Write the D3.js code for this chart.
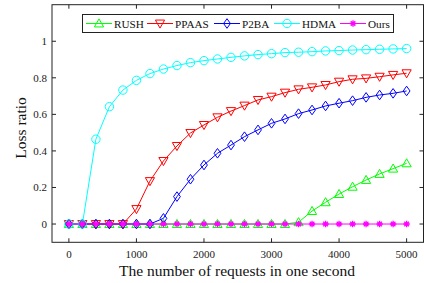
<!DOCTYPE html>
<html><head><meta charset="utf-8">
<script src="https://cdn.jsdelivr.net/npm/d3@7"></script>
<style>body{margin:0;background:#fff}svg{display:block}
svg text{font-family:"Liberation Serif","Times New Roman",Tinos,"DejaVu Serif",serif;}</style>
</head><body><svg id="c" width="424" height="283"></svg>
<script>
const xs = d3.range(0, 5001, 200);
const rush  = [0,0,0,0,0,0,0,0,0,0,0,0,0,0,0,0,0,0.01,0.071,0.119,0.164,0.204,0.241,0.274,0.303,0.332];
const ppaas = [0,0,0,0,0,0.082,0.235,0.345,0.427,0.498,0.542,0.584,0.618,0.648,0.679,0.697,0.719,0.737,0.748,0.761,0.779,0.792,0.797,0.806,0.816,0.825];
const p2ba  = [0,0,0,0,0,0,0,0.031,0.150,0.245,0.323,0.387,0.432,0.478,0.515,0.551,0.575,0.604,0.624,0.646,0.661,0.675,0.693,0.706,0.715,0.728];
const hdma  = [0,0,0.464,0.642,0.733,0.786,0.823,0.848,0.867,0.883,0.894,0.903,0.912,0.920,0.927,0.932,0.938,0.940,0.943,0.947,0.949,0.952,0.954,0.956,0.958,0.960];
const ours  = xs.map(()=>0);
const seriesNames = ["RUSH","PPAAS","P2BA","HDMA","Ours"];
const seriesVals = [rush, ppaas, p2ba, hdma, ours];
const colors = ["#00ff00","#ff0000","#0000ff","#00ffff","#ff00ff"];
const markers = ["tri-up","tri-down","diamond","circle","star"];
const xTicks = [0,1000,2000,3000,4000,5000];
const yTicks = [0,0.2,0.4,0.6,0.8,1];
const yTickLabels = ["0","0.2","0.4","0.6","0.8","1"];

const svg = d3.select("#c");
const x = d3.scaleLinear().domain([-250,5250]).range([52,423.5]);
const y = d3.scaleLinear().domain([-0.1,1.2]).range([242.3,4.7]);

function drawMarker(g, type, cx, cy, col){
  if(type==="circle"){
    g.append("circle").attr("cx",cx).attr("cy",cy).attr("r",4.2).attr("fill","none").attr("stroke",col).attr("stroke-width",1);
  } else if(type==="tri-up"){
    const s=4.6;
    g.append("path").attr("d",`M${cx},${cy-s}L${cx+s},${cy+s*0.75}L${cx-s},${cy+s*0.75}Z`).attr("fill","none").attr("stroke",col).attr("stroke-width",1);
  } else if(type==="tri-down"){
    const s=4.6;
    g.append("path").attr("d",`M${cx},${cy+s}L${cx+s},${cy-s*0.75}L${cx-s},${cy-s*0.75}Z`).attr("fill","none").attr("stroke",col).attr("stroke-width",1);
  } else if(type==="diamond"){
    g.append("path").attr("d",`M${cx},${cy-4.8}L${cx+3.4},${cy}L${cx},${cy+4.8}L${cx-3.4},${cy}Z`).attr("fill","none").attr("stroke",col).attr("stroke-width",1);
  } else if(type==="star"){
    const r=3.2, d=r*0.72;
    g.append("path").attr("d",`M${cx-r},${cy}L${cx+r},${cy}M${cx},${cy-r}L${cx},${cy+r}M${cx-d},${cy-d}L${cx+d},${cy+d}M${cx-d},${cy+d}L${cx+d},${cy-d}`)
      .attr("stroke",col).attr("stroke-width",1.3);
  }
}

svg.append("rect").attr("x",52).attr("y",4.7).attr("width",423.5-52).attr("height",242.3-4.7)
  .attr("fill","none").attr("stroke","#222").attr("stroke-width",1);

const tl = 4;
const tg = svg.append("g").attr("stroke","#222").attr("stroke-width",1);
xTicks.forEach(t=>{
  tg.append("line").attr("x1",x(t)).attr("x2",x(t)).attr("y1",242.3).attr("y2",242.3-tl);
  tg.append("line").attr("x1",x(t)).attr("x2",x(t)).attr("y1",4.7).attr("y2",4.7+tl);
});
yTicks.forEach(t=>{
  tg.append("line").attr("x1",52).attr("x2",52+tl).attr("y1",y(t)).attr("y2",y(t));
  tg.append("line").attr("x1",423.5).attr("x2",423.5-tl).attr("y1",y(t)).attr("y2",y(t));
});
svg.append("g").selectAll("text").data(xTicks).join("text")
  .attr("x",d=>x(d)).attr("y",258).attr("text-anchor","middle")
  .attr("font-size",11).attr("fill","#222").text(d=>d);
svg.append("g").selectAll("text").data(yTicks).join("text")
  .attr("x",47).attr("y",d=>y(d)+3.8).attr("text-anchor","end")
  .attr("font-size",11).attr("fill","#222").text((d,i)=>yTickLabels[i]);

svg.append("text").attr("x",237).attr("y",276).attr("text-anchor","middle")
  .attr("font-size",15.5).attr("fill","#111").text("The number of requests in one second");
svg.append("text").attr("transform","translate(26,128) rotate(-90)").attr("text-anchor","middle")
  .attr("font-size",15.5).attr("fill","#111").text("Loss ratio");

const line = d3.line().x((d,i)=>x(xs[i])).y(d=>y(d));
seriesVals.forEach((vals,k)=>{
  const g = svg.append("g");
  g.append("path").attr("d",line(vals)).attr("fill","none").attr("stroke",colors[k]).attr("stroke-width",1);
  vals.forEach((v,i)=>drawMarker(g, markers[k], x(xs[i]), y(v), colors[k]));
});

const lg = svg.append("g");
lg.append("rect").attr("x",82.5).attr("y",14.5).attr("width",311).attr("height",18)
  .attr("fill","#fff").attr("stroke","#222").attr("stroke-width",1);
const lx = [86,147,214,274,340];
seriesNames.forEach((n,k)=>{
  const cy = 23.5;
  lg.append("line").attr("x1",lx[k]).attr("x2",lx[k]+26).attr("y1",cy).attr("y2",cy).attr("stroke",colors[k]).attr("stroke-width",1);
  drawMarker(lg, markers[k], lx[k]+13, cy, colors[k]);
  lg.append("text").attr("x",lx[k]+28).attr("y",cy+4).attr("font-size",11.2).attr("fill","#111").text(n);
});
</script></body></html>
